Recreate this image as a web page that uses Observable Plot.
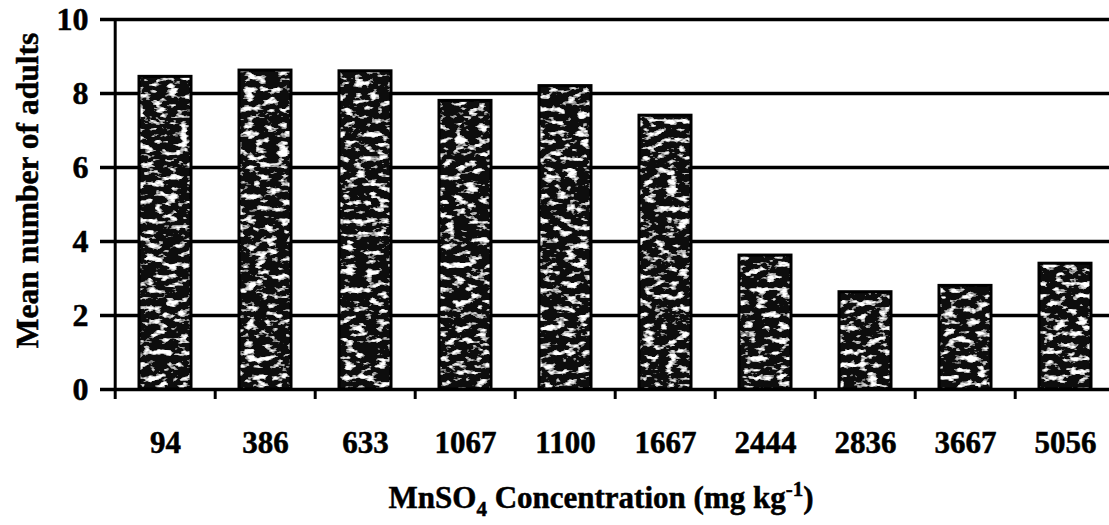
<!DOCTYPE html>
<html><head><meta charset="utf-8">
<script src="https://cdn.jsdelivr.net/npm/d3@7"></script>
<script src="https://cdn.jsdelivr.net/npm/@observablehq/plot@0.6"></script>
<style>
body{margin:0;background:#fff}
svg text{stroke:#000;stroke-width:0.5px}
</style>
</head><body><div id="chart"></div>
<script>
// ---- data ----
const concentrations = ["94","386","633","1067","1100","1667","2444","2836","3667","5056"];
const meanAdults = [8.45, 8.62, 8.6, 7.8, 8.2, 7.4, 3.62, 2.63, 2.8, 3.4];
const yTicks = [0, 2, 4, 6, 8, 10];
const yLabel = "Mean number of adults";
const xLabel = "MnSO4 Concentration (mg kg-1)";
const xLabelParts = [["MnSO", 0, null], ["4", 8, 21], [" Concentration (mg kg", -8, null], ["-1", -12, 21], [")", 12, null]];

const data = concentrations.map((c, i) => ({c, v: meanAdults[i]}));
const font = "'Liberation Serif', 'Times New Roman', serif";
const xRange = [112, 1118];
const step = (xRange[1] - xRange[0]) / concentrations.length;

const chart = Plot.plot({
  width: 1109, height: 525,
  marginTop: 19, marginBottom: 136, marginLeft: 112, marginRight: 0,
  style: {fontFamily: font, background: "#fff", color: "#000", overflow: "visible"},
  x: {domain: concentrations, range: xRange, paddingInner: 0.48, paddingOuter: 0.24},
  y: {domain: [0, 10]},
  marks: [
    Plot.ruleY(yTicks, {insetLeft: -12, stroke: "#000", strokeWidth: 3.5}),
    Plot.barY(data, {x: "c", y: "v", fill: "#0d0d0d", className: "barfill"}),
    Plot.barY(data, {x: "c", y: "v", fill: "none", stroke: "#000", strokeWidth: 3}),
    Plot.ruleX(concentrations, {x: d => d, dx: -step / 2, y1: -0.27, y2: (d, i) => i === 0 ? 10 : 0, stroke: "#000", strokeWidth: 3}),
    Plot.axisX({tickSize: 0, tickPadding: 41, fontSize: 31, fontWeight: "bold", label: null}),
    Plot.axisY({ticks: yTicks, tickSize: 0, tickPadding: 24, fontSize: 32, fontWeight: "bold", label: null}),
    Plot.text([yLabel], {frameAnchor: "left", textAnchor: "middle", rotate: -90, dx: -85, dy: -14, fontSize: 31.5, fontWeight: "bold"}),
    Plot.text([xLabel], {frameAnchor: "bottom", textAnchor: "middle", dy: 118, lineAnchor: "bottom", fontSize: 31, fontWeight: "bold", dx: -10})
  ]
});

// blotchy speckle texture for bars (scanned look)
const NS = "http://www.w3.org/2000/svg";
const defs = document.createElementNS(NS, "defs");
defs.innerHTML = `<filter id="speckle" x="0" y="0" width="1" height="1">
  <feTurbulence type="fractalNoise" baseFrequency="0.09 0.16" numOctaves="3" seed="11" result="n"/>
  <feColorMatrix in="n" type="matrix" values="0 0 0 0 1  0 0 0 0 1  0 0 0 0 1  -6 0 0 0 2.75" result="w"/>
  <feComposite in="w" in2="SourceGraphic" operator="in" result="ws"/>
  <feMerge><feMergeNode in="SourceGraphic"/><feMergeNode in="ws"/></feMerge>
</filter>`;
chart.insertBefore(defs, chart.firstChild);
const fillG = chart.querySelector("g.barfill") || chart.querySelector("[class*='barfill']");
if (fillG) fillG.setAttribute("filter", "url(#speckle)");

// sub/superscripts in the x title
const t = [...chart.querySelectorAll("text")].find(e => e.textContent === xLabel);
if (t) {
  t.textContent = "";
  for (const [s, dy, fs] of xLabelParts) {
    const ts = document.createElementNS(NS, "tspan");
    ts.textContent = s;
    ts.setAttribute("dy", dy);
    if (fs) ts.setAttribute("font-size", fs);
    t.appendChild(ts);
  }
}
document.getElementById("chart").appendChild(chart);
</script>
</body></html>
